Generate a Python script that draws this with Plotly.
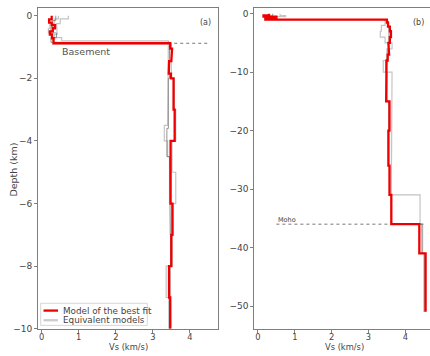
import plotly.graph_objects as go

# ---- Panel (a): shallow structure (depth in km, Vs in km/s) ----
a_best_tops = [0.0, -0.12, -0.22, -0.30, -0.40, -0.50, -0.60, -0.72, -0.88, -1.05, -1.25,
               -1.45, -1.65, -1.85, -2.0, -3.0, -4.0, -6.0, -7.0, -8.0, -9.0]
a_best_vs = [0.27, 0.20, 0.27, 0.36, 0.30, 0.22, 0.28, 0.32, 3.47, 3.52, 3.50,
             3.44, 3.43, 3.49, 3.56, 3.59, 3.48, 3.53, 3.50, 3.44, 3.47]
a_bottom = -10.0

a_eq1_tops = [0.0, -0.10, -0.25, -0.40, -0.55, -0.70, -0.80, -2.0, -3.5, -4.0, -4.5,
              -6.0, -7.0, -8.0, -9.0]
a_eq1_vs = [0.45, 0.35, 0.22, 0.18, 0.25, 0.54, 3.42, 3.40, 3.31, 3.40, 3.45,
            3.50, 3.48, 3.36, 3.43]
a_eq2_tops = [0.0, -0.10, -0.25, -0.45, -0.60, -0.75, -0.90, -2.0, -3.0, -4.0, -5.0,
              -6.0, -7.0, -8.0, -9.0]
a_eq2_vs = [0.72, 0.50, 0.40, 0.42, 0.35, 0.30, 3.50, 3.58, 3.62, 3.52, 3.62,
            3.55, 3.52, 3.47, 3.49]
a_eq3_tops = [0.0, -0.15, -0.35, -0.55, -0.70, -0.85, -2.0, -3.6, -4.5, -5.0, -7.0, -8.0, -9.0]
a_eq3_vs = [0.38, 0.30, 0.25, 0.40, 0.25, 3.45, 3.42, 3.38, 3.45, 3.47, 3.48, 3.42, 3.45]

a_basement_depth = -0.88

# ---- Panel (b): crust and upper mantle ----
b_best_tops = [0.0, -0.3, -0.5, -0.7, -0.85, -1.0, -1.5, -2.2, -3.0, -4.0, -5.0, -6.0,
               -7.0, -8.0, -9.0, -15.0, -20.0, -26.0, -31.0, -36.0, -41.0]
b_best_vs = [0.30, 0.15, 0.50, 0.30, 0.20, 3.50, 3.53, 3.58, 3.61, 3.58, 3.54, 3.56,
             3.52, 3.49, 3.48, 3.57, 3.54, 3.57, 3.62, 4.38, 4.55]
b_bottom = -51.0

b_eq1_tops = [0.0, -0.3, -0.5, -0.8, -1.0, -2.0, -3.0, -4.0, -5.0, -6.0, -8.0, -10.0,
              -20.0, -31.0, -36.0, -41.0]
b_eq1_vs = [0.60, 0.75, 0.35, 0.20, 3.45, 3.35, 3.32, 3.45, 3.64, 3.50, 3.40, 3.64,
            3.62, 4.40, 4.47, 4.52]
b_eq2_tops = [0.0, -0.4, -0.7, -1.0, -2.0, -4.0, -6.0, -8.0, -10.0, -15.0, -26.0,
              -31.0, -36.0, -41.0]
b_eq2_vs = [0.40, 0.25, 0.50, 3.52, 3.56, 3.55, 3.53, 3.47, 3.50, 3.55, 3.58,
            3.62, 4.45, 4.51]

b_moho_depth = -36.0

legend_labels = ["Model of the best fit", "Equivalent models"]

RED = "#ee0000"
LIGHT = "#c4c4c4"
DARK = "#7a7a7a"
TXT = "#444444"
FONT = "DejaVu Sans"
W, H = 430, 356


def step_profile(tops, vs, bottom):
    xs, ys = [], []
    for i, (t, v) in enumerate(zip(tops, vs)):
        b = tops[i + 1] if i + 1 < len(tops) else bottom
        xs += [v, v]
        ys += [t, b]
    return xs, ys


def px(x):
    return x / W


def py(y):
    return 1 - y / H


fig = go.Figure()


def add_model(tops, vs, bottom, xa, ya, color, width):
    x, y = step_profile(tops, vs, bottom)
    fig.add_trace(go.Scatter(
        x=x, y=y, mode="lines", xaxis=xa, yaxis=ya,
        line=dict(color=color, width=width),
        showlegend=False, hoverinfo="skip"))


# equivalent models (drawn beneath)
add_model(a_eq1_tops, a_eq1_vs, a_bottom, "x", "y", LIGHT, 1.2)
add_model(a_eq2_tops, a_eq2_vs, a_bottom, "x", "y", LIGHT, 1.2)
add_model(a_eq3_tops, a_eq3_vs, a_bottom, "x", "y", DARK, 0.8)
add_model(b_eq1_tops, b_eq1_vs, b_bottom, "x2", "y2", LIGHT, 1.2)
add_model(b_eq2_tops, b_eq2_vs, b_bottom, "x2", "y2", DARK, 0.8)

# reference horizons
fig.add_trace(go.Scatter(x=[0.5, 4.5], y=[a_basement_depth] * 2, mode="lines",
                         xaxis="x", yaxis="y", line=dict(color="#777777", width=1, dash="dot"),
                         showlegend=False, hoverinfo="skip"))
fig.add_trace(go.Scatter(x=[0.5, 4.5], y=[b_moho_depth] * 2, mode="lines",
                         xaxis="x2", yaxis="y2", line=dict(color="#777777", width=1, dash="dot"),
                         showlegend=False, hoverinfo="skip"))

# best-fit models
add_model(a_best_tops, a_best_vs, a_bottom, "x", "y", RED, 2.3)
add_model(b_best_tops, b_best_vs, b_bottom, "x2", "y2", RED, 2.3)

axis_common = dict(showline=True, linecolor="#7f7f7f", linewidth=1, ticks="outside",
                   ticklen=3, tickcolor="#7f7f7f", showgrid=False, zeroline=False,
                   tickfont=dict(family=FONT, size=9, color=TXT))
xtickfont = dict(family=FONT, size=8.3, color=TXT)

ydom = [py(333.5), py(8)]

# legend box drawn inside panel (a)
shapes = [
    dict(type="rect", xref="paper", yref="paper",
         x0=px(40.7), x1=px(147.3), y0=py(330), y1=py(307.6),
         line=dict(color="#d6d6d6", width=1), fillcolor="rgba(255,255,255,0.85)",
         layer="above"),
    dict(type="line", xref="paper", yref="paper",
         x0=px(43.5), x1=px(58), y0=py(315), y1=py(315),
         line=dict(color=RED, width=2.3), layer="above"),
    dict(type="line", xref="paper", yref="paper",
         x0=px(43.5), x1=px(58), y0=py(324.8), y1=py(324.8),
         line=dict(color="#cccccc", width=2.3), layer="above"),
]

annotations = [
    dict(x=px(60.5), y=py(315), xref="paper", yref="paper", text=legend_labels[0],
         showarrow=False, xanchor="left", yanchor="middle",
         font=dict(family=FONT, size=8.8, color=TXT)),
    dict(x=px(60.5), y=py(324.8), xref="paper", yref="paper", text=legend_labels[1],
         showarrow=False, xanchor="left", yanchor="middle",
         font=dict(family=FONT, size=8.8, color=TXT)),
    dict(x=0.5, y=a_basement_depth, xref="x", yref="y", text="Basement",
         showarrow=False, xanchor="left", yanchor="top", yshift=-0.5,
         font=dict(family=FONT, size=9.5, color="#555555")),
    dict(x=0.5, y=b_moho_depth, xref="x2", yref="y2", text="Moho",
         showarrow=False, xanchor="left", yanchor="bottom", yshift=-1.5,
         font=dict(family=FONT, size=6.5, color=TXT)),
    dict(x=0.97, y=0.975, xref="x domain", yref="y domain", text="(a)",
         showarrow=False, xanchor="right", yanchor="top",
         font=dict(family=FONT, size=8, color=TXT)),
    dict(x=0.98, y=0.975, xref="x2 domain", yref="y2 domain", text="(b)",
         showarrow=False, xanchor="right", yanchor="top",
         font=dict(family=FONT, size=8, color=TXT)),
    # axis titles
    dict(x=px(14), y=py(172), xref="paper", yref="paper", text="Depth (km)",
         showarrow=False, textangle=-90, xanchor="center", yanchor="middle",
         font=dict(family=FONT, size=9.5, color=TXT)),
    dict(x=px(128), y=py(356), xref="paper", yref="paper", text="Vs (km/s)",
         showarrow=False, xanchor="center", yanchor="bottom", borderpad=0, yshift=-2,
         font=dict(family=FONT, size=8.3, color=TXT)),
    dict(x=px(344), y=py(356), xref="paper", yref="paper", text="Vs (km/s)",
         showarrow=False, xanchor="center", yanchor="bottom", borderpad=0, yshift=-2,
         font=dict(family=FONT, size=8.3, color=TXT)),
]

fig.update_layout(
    width=W, height=H,
    margin=dict(l=0, r=0, t=0, b=0),
    paper_bgcolor="white", plot_bgcolor="white",
    font=dict(family=FONT, size=10, color=TXT),
    showlegend=False,
    xaxis=dict(domain=[px(38), px(218)], range=[-0.1, 4.76], anchor="y",
               tickvals=[0, 1, 2, 3, 4], mirror=True, ticklabelstandoff=-3,
               **{**axis_common, "tickfont": xtickfont}),
    yaxis=dict(domain=ydom, range=[-10, 0.25], anchor="x",
               tickvals=[0, -2, -4, -6, -8, -10], mirror=True,
               ticktext=["0", "\u22122", "\u22124", "\u22126", "\u22128", "\u221210"],
               **axis_common),
    xaxis2=dict(domain=[px(254.3), 1.0], range=[-0.1, 4.67], anchor="y2",
                tickvals=[0, 1, 2, 3, 4], mirror=True, ticklabelstandoff=-3,
                **{**axis_common, "tickfont": xtickfont}),
    yaxis2=dict(domain=ydom, range=[-53.9, 1.0], anchor="x2",
                tickvals=[0, -10, -20, -30, -40, -50],
                ticktext=["0", "\u221210", "\u221220", "\u221230", "\u221240", "\u221250"],
                **axis_common),
    shapes=shapes,
    annotations=annotations,
)

fig.write_html("out.html")
